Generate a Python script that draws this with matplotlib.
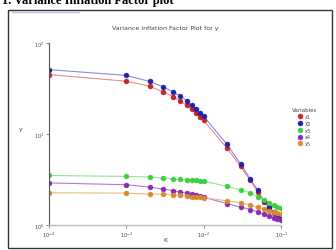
import matplotlib
matplotlib.use("Agg")
import matplotlib.pyplot as plt
from matplotlib.patches import Rectangle
from matplotlib.lines import Line2D

k = [0.0001, 0.001, 0.002, 0.003, 0.004, 0.005, 0.006, 0.007, 0.008, 0.009, 0.01,
     0.02, 0.03, 0.04, 0.05, 0.06, 0.07, 0.08, 0.09, 0.1]
x1 = [45, 38, 33.5, 29, 25.8, 23, 20.6, 18.7, 16.9, 15.3, 14.1,
      7.0, 4.4, 3.1, 2.3, 1.78, 1.52, 1.36, 1.25, 1.17]
x2 = [51, 44, 37.8, 33, 29, 26, 23.3, 20.8, 19, 17.2, 15.6,
      7.7, 4.7, 3.2, 2.42, 1.84, 1.57, 1.4, 1.28, 1.2]
x3 = [3.5, 3.42, 3.37, 3.28, 3.2, 3.17, 3.14, 3.12, 3.09, 3.06, 3.04,
      2.65, 2.44, 2.26, 2.04, 1.89, 1.76, 1.65, 1.59, 1.55]
x4 = [2.9, 2.77, 2.61, 2.48, 2.39, 2.3, 2.24, 2.18, 2.13, 2.08, 2.02,
      1.72, 1.57, 1.48, 1.39, 1.31, 1.25, 1.2, 1.16, 1.13]
x5 = [2.26, 2.24, 2.18, 2.18, 2.14, 2.11, 2.08, 2.05, 2.04, 2.02, 2.0,
      1.84, 1.76, 1.65, 1.57, 1.5, 1.44, 1.39, 1.35, 1.31]

series = [("x1", x1, "#c8222a", "#e88a8a"),
          ("X2", x2, "#2323a8", "#8a8ae0"),
          ("x3", x3, "#3ecf3e", "#8fe88f"),
          ("x4", x4, "#8a2bb8", "#b27ad8"),
          ("x5", x5, "#d98a30", "#f0b880")]

W, H = 336, 251
fig = plt.figure(figsize=(W / 100, H / 100), dpi=100)
fig.patch.set_facecolor("white")

# header text (partially cut at top)
fig.text(2 / W, 1 - 4 / H, "1. Variance Inflation Factor plot", fontsize=9,
         fontweight="bold", family="Liberation Serif", va="baseline", ha="left")

# frame box
fig.patches.append(Rectangle((8 / W, 1 - 249 / H), 324 / W, 238 / H,
                             transform=fig.transFigure, fill=False,
                             edgecolor="#333333", linewidth=1.0))
fig.lines.append(Line2D([12 / W, 79 / W], [1 - 12.5 / H, 1 - 12.5 / H],
                        transform=fig.transFigure, color="#b8c8e0", linewidth=1.0))

ax = fig.add_axes([49 / W, 1 - 226 / H, 232 / W, 182 / H])
for name, vals, mc, lc in series:
    ax.plot(k, vals, color=lc, linewidth=0.8, zorder=2)
    ax.plot(k, vals, linestyle="none", marker="o", markersize=3.6,
            markerfacecolor=mc, markeredgecolor=mc, markeredgewidth=0.3,
            zorder=3, label=name)

ax.set_xscale("log")
ax.set_yscale("log")
ax.set_xlim(1e-4, 1e-1)
ax.set_ylim(1, 100)
ax.spines["top"].set_visible(False)
ax.spines["right"].set_visible(False)
ax.spines["left"].set_color("#555555")
ax.spines["left"].set_linewidth(0.8)
ax.spines["bottom"].set_color("#bbbbbb")
ax.spines["bottom"].set_linewidth(1.0)
ax.minorticks_off()
ax.tick_params(axis="both", labelsize=3.5, colors="#555555", length=2, width=0.5,
               pad=1.5, labelcolor="#444444")
ax.set_xticks([1e-4, 1e-3, 1e-2, 1e-1])
ax.set_yticks([1, 10, 100])
ax.patch.set_alpha(0)
for sp in ax.spines.values():
    sp.set_zorder(4)
for sp in ["left", "bottom"]:
    ax.spines[sp].set_clip_on(False)

ax.set_title("Variance Inflation Factor Plot for y", fontsize=4.5, color="#444444",
             pad=10)
fig.text(21 / W, 1 - 130 / H, "y", fontsize=4.5, color="#444444",
         ha="center", va="center")
fig.text(165 / W, 1 - 241 / H, "K", fontsize=4.5, color="#444444",
         ha="center", va="center")

leg = ax.legend(title="Variables", loc="upper left", bbox_to_anchor=(290 / W, 1 - 106 / H),
                bbox_transform=fig.transFigure, frameon=False, fontsize=3.5,
                title_fontsize=4, handlelength=0.6, handletextpad=0.8,
                labelspacing=0.35, borderpad=0)
for t in leg.get_texts():
    t.set_color("#444444")
leg.get_title().set_color("#444444")

fig.savefig("out.png", dpi=100, facecolor="white")
